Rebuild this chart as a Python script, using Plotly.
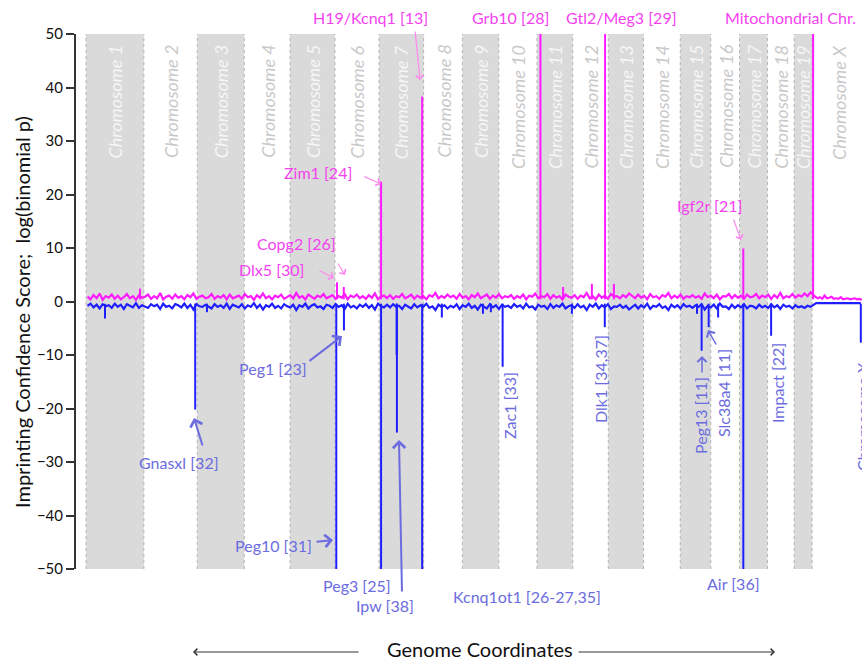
import plotly.graph_objects as go

# ---------------- data ----------------
CHROMS = [str(i) for i in range(1, 20)] + ["X"]
CHROM_MB = [197, 182, 160, 156, 153, 150, 152, 132, 124, 130, 122, 121, 120, 125, 104, 98, 95, 91, 61, 166]
MITO_GAP_MB = 7

MAG_NOISE = [
    0.9, 0.4, 1.2, 0.6, 1.5, 0.3, 1.0, 0.7, 1.3, 0.5, 1.1, 0.4, 0.8, 1.4, 0.6, 1.0, 0.3, 1.2, 0.7, 0.9,
    1.3, 0.5, 1.0, 0.6, 1.6, 0.4, 0.9, 1.1, 0.5, 1.3, 0.7, 1.0, 0.4, 1.2, 0.8, 1.5, 0.5, 0.9, 1.1, 0.6,
    0.8, 1.4, 0.5, 1.0, 0.7, 1.2, 0.4, 1.3, 0.6, 0.9, 1.1, 0.5, 1.4, 0.8, 1.0, 0.3, 1.2, 0.7, 1.5, 0.6,
    1.0, 0.4, 1.1, 0.8, 1.3, 0.5, 0.9, 1.2, 0.6, 1.6, 0.7, 1.0, 0.4, 1.3, 0.9, 0.5, 1.1, 0.8, 1.4, 0.6,
    0.9, 1.2, 0.5, 1.0, 0.7, 1.4, 0.4, 1.1, 0.8, 1.3, 0.6, 1.0, 0.5, 1.2, 0.7, 1.5, 0.4, 0.9, 1.1, 0.6,
    1.2, 0.5, 1.0, 0.8, 1.4, 0.6, 0.9, 1.3, 0.5, 1.1, 0.7, 1.0, 0.4, 1.2, 0.9, 1.6, 0.6, 1.0, 0.7, 1.3,
    0.8, 1.1, 0.5, 1.4, 0.7, 1.0, 0.4, 1.2, 0.8, 1.5, 0.6, 0.9, 1.3, 0.5, 1.1, 0.7, 1.4, 0.6, 1.0, 0.8,
    1.2, 0.5, 1.0, 0.7, 1.3, 0.4, 1.1, 0.9, 1.5, 0.6, 1.0, 0.8, 1.4, 0.5, 1.2, 0.7, 1.0, 0.4, 1.3, 0.9,
    0.7, 1.2, 0.5, 1.1, 0.8, 1.6, 0.6, 1.0, 0.4, 1.3, 0.7, 1.1, 0.5, 1.4, 0.9, 1.0, 0.6, 1.2, 0.8, 1.5,
    1.0, 0.6, 1.3, 0.7, 1.1, 0.4, 1.4, 0.8, 1.0, 0.5, 1.2, 0.9, 1.6, 0.6, 1.1, 0.7, 1.3, 0.5, 1.0, 0.8,
    1.2, 0.7, 1.0, 0.5, 1.5, 0.8, 1.1, 0.6, 1.3, 0.4, 1.0, 0.9, 1.4, 0.6, 1.2, 0.7, 1.1, 0.5, 1.3, 0.8,
    0.9, 1.4, 0.6, 1.1, 0.8, 1.3, 0.5, 1.2, 0.7, 1.6, 0.6, 1.0, 0.8, 1.4, 0.7, 1.2, 0.9, 1.5, 1.0, 1.7,
]
BLUE_NOISE = [
    -0.8, -0.4, -1.1, -0.6, -1.3, -0.5, -0.9, -0.7, -1.2, -0.4, -1.0, -0.6, -1.4, -0.5, -0.8, -1.1, -0.3, -1.2, -0.7, -0.9,
    -1.2, -0.5, -0.9, -0.6, -1.4, -0.4, -1.0, -0.8, -1.3, -0.5, -0.7, -1.1, -0.4, -1.2, -0.6, -1.5, -0.5, -0.9, -1.0, -0.6,
    -0.9, -1.3, -0.5, -1.0, -0.7, -1.2, -0.4, -1.4, -0.6, -0.8, -1.1, -0.5, -1.3, -0.7, -1.0, -0.3, -1.2, -0.6, -1.5, -0.7,
    -1.0, -0.4, -1.2, -0.8, -1.3, -0.5, -0.9, -1.1, -0.6, -1.6, -0.7, -1.0, -0.4, -1.3, -0.8, -0.5, -1.1, -0.9, -1.4, -0.6,
    -0.8, -1.2, -0.5, -1.0, -0.7, -1.4, -0.4, -1.1, -0.8, -1.3, -0.6, -1.0, -0.5, -1.2, -0.7, -1.5, -0.4, -0.9, -1.1, -0.6,
    -1.1, -0.5, -1.0, -0.8, -1.4, -0.6, -0.9, -1.3, -0.5, -1.1, -0.7, -1.0, -0.4, -1.2, -0.9, -1.6, -0.6, -1.0, -0.7, -1.3,
    -0.8, -1.1, -0.5, -1.4, -0.7, -1.0, -0.4, -1.2, -0.8, -1.5, -0.6, -0.9, -1.3, -0.5, -1.1, -0.7, -1.4, -0.6, -1.0, -0.8,
    -1.2, -0.5, -1.0, -0.7, -1.3, -0.4, -1.1, -0.9, -1.5, -0.6, -1.0, -0.8, -1.4, -0.5, -1.2, -0.7, -1.0, -0.4, -1.3, -0.9,
    -0.7, -1.2, -0.5, -1.1, -0.8, -1.6, -0.6, -1.0, -0.4, -1.3, -0.7, -1.1, -0.5, -1.4, -0.9, -1.0, -0.6, -1.2, -0.8, -1.5,
    -1.0, -0.6, -1.3, -0.7, -1.1, -0.4, -1.4, -0.8, -1.0, -0.5, -1.2, -0.9, -1.6, -0.6, -1.1, -0.7, -1.3, -0.5, -1.0, -0.8,
    -1.2, -0.7, -1.0, -0.5, -1.5, -0.8, -1.1, -0.6, -1.3, -0.4, -1.0, -0.9, -1.4, -0.6, -1.2, -0.7, -1.1, -0.5, -1.3, -0.8,
    -0.9, -1.3, -0.6, -1.1, -0.8, -1.2, -0.5, -1.1, -0.7, -1.4, -0.6, -1.0, -0.8, -1.3, -0.7, -1.1, -0.9, -1.2, -0.8, -1.0,
]
MAG_X_NOISE = [0.9, 0.6, 0.8, 0.5, 1.1, 0.6, 0.7, 0.9, 0.5, 0.6, 0.5, 0.8, 0.4, 0.5, 0.6, 0.4, 0.5, 0.6, 0.4, 0.5, 0.3]
BLUE_X_NOISE = [-0.3, -0.3, -0.35, -0.3, -0.3, -0.35, -0.3, -0.3, -0.3, -0.35, -0.3, -0.3]

MAG_SPIKE_CHR = ["1", "6", "6", "7", "7", "11", "11", "12", "12", "13", "17", "M"]
MAG_SPIKE_POS = [184, 6.8, 30, 7, 147, 11.8, 89, 65, 110, 19, 12.8, 3.5]
MAG_SPIKE_VAL = [2.4, 3.6, 2.7, 22.4, 38.3, 60, 2.7, 3.3, 60, 3.3, 9.9, 60]

BLUE_SPIKE_CHR = ["1", "2", "3", "6", "6", "7", "7", "7", "7", "8", "9", "9", "10", "11", "12",
                  "15", "15", "15", "16", "17", "18", "X"]
BLUE_SPIKE_POS = [64.7, 175, 33, 4.5, 30.5, 7, 60, 61, 147, 62, 70, 97, 13, 119, 109,
                  57, 72.8, 96.8, 25, 12.8, 12.5, 159]
BLUE_SPIKE_VAL = [-3.2, -20.2, -2.0, -60, -5.4, -60, -10, -24.5, -60, -3.0, -2.3, -2.0, -12.2, -2.3, -4.8,
                  -2.3, -9.2, -4.8, -3.0, -60, -6.4, -7.7]

Y_TICKS = [50, 40, 30, 20, 10, 0, -10, -20, -30, -40, -50]

# ---------------- layout helpers ----------------
W, H = 862, 660
L, T, B, R = 76, 34, 91, 0
PX_PER_MB = 0.2936
X0_PX = 86
XR = [(L - X0_PX) / PX_PER_MB, (W - X0_PX) / PX_PER_MB]
YR = [-50, 50]
PLOT_W = W - L - R
PLOT_H = H - T - B


def px_x(px):
    return (px - X0_PX) / PX_PER_MB


def px_y(py):
    return 50 - (py - T) * 100.0 / PLOT_H


def paper_x(px):
    return (px - L) / PLOT_W


def paper_y(py):
    return 1 - (py - T) / PLOT_H


starts = {}
acc = 0
for c, s in zip(CHROMS, CHROM_MB):
    if c == "X":
        starts["M"] = acc
        acc += MITO_GAP_MB
    starts[c] = acc
    acc += s
AUTO_END = starts["M"]

MAG = "#ff1aff"
BLUE = "#1e1eff"
MAG_TXT = "#f542f0"
BLUE_TXT = "#6c6ce0"
FONT = "Lato"

fig = go.Figure()

# noise traces
n = len(BLUE_NOISE)
bx = [(i + 0.5) * AUTO_END / n for i in range(n)]
xs = starts["X"]
bxx = [xs + (i + 0.5) * CHROM_MB[-1] / len(BLUE_X_NOISE) for i in range(len(BLUE_X_NOISE))]
fig.add_trace(go.Scatter(x=bx + bxx, y=BLUE_NOISE + BLUE_X_NOISE, mode="lines",
                         line=dict(color=BLUE, width=2.2), hoverinfo="skip"))
sx, sy = [], []
for c, p, v in zip(BLUE_SPIKE_CHR, BLUE_SPIKE_POS, BLUE_SPIKE_VAL):
    g = starts[c] + p
    sx += [g, g, None]
    sy += [-0.4, v, None]
fig.add_trace(go.Scatter(x=sx, y=sy, mode="lines", line=dict(color=BLUE, width=2), hoverinfo="skip"))

m = len(MAG_NOISE)
mx = [(i + 0.5) * AUTO_END / m for i in range(m)]
mxx = [xs + (i + 0.5) * CHROM_MB[-1] / len(MAG_X_NOISE) for i in range(len(MAG_X_NOISE))]
fig.add_trace(go.Scatter(x=mx + mxx, y=MAG_NOISE + MAG_X_NOISE, mode="lines",
                         line=dict(color=MAG, width=2.2), hoverinfo="skip"))
sx, sy = [], []
for c, p, v in zip(MAG_SPIKE_CHR, MAG_SPIKE_POS, MAG_SPIKE_VAL):
    g = starts[c] + p
    sx += [g, g, None]
    sy += [0.4, v, None]
fig.add_trace(go.Scatter(x=sx, y=sy, mode="lines", line=dict(color=MAG, width=2), hoverinfo="skip"))

# chromosome bands and labels
shapes = []
annots = []
for i, (c, s) in enumerate(zip(CHROMS, CHROM_MB)):
    a = starts[c]
    grey = (i % 2 == 0)
    if grey:
        shapes.append(dict(type="rect", xref="x", yref="y", x0=a, x1=a + s, y0=-50, y1=50,
                           fillcolor="#dadada", line=dict(width=0), layer="below"))
        for e in (a, a + s):
            shapes.append(dict(type="line", xref="x", yref="y", x0=e, x1=e, y0=-50, y1=50,
                               line=dict(color="#b4b4b4", width=1, dash="dot"), layer="below"))
    annots.append(dict(x=a + s / 2, y=px_y(43), xref="x", yref="y", text="Chromosome " + c,
                       textangle=-90, showarrow=False, xanchor="center", yanchor="top",
                       font=dict(family=FONT, size=18, color="#f6f6f6" if grey else "#c9c9c9",
                                 style="italic")))


def txt(text, px, py, color, size=16, angle=0, xanchor="center"):
    annots.append(dict(x=paper_x(px), y=paper_y(py), xref="paper", yref="paper", text=text,
                       showarrow=False, textangle=angle, xanchor=xanchor, yanchor="middle",
                       font=dict(family=FONT, size=size, color=color)))


def arrow(tx, ty, hx, hy, color, width=1.5, head=4, size=1.2):
    annots.append(dict(x=px_x(hx), y=px_y(hy), ax=px_x(tx), ay=px_y(ty), xref="x", yref="y",
                       axref="x", ayref="y", text="", showarrow=True, arrowhead=head,
                       arrowsize=size, arrowwidth=width, arrowcolor=color))


# magenta labels
txt("H19/Kcnq1 [13]", 370, 17, MAG_TXT)
txt("Grb10 [28]", 510, 17, MAG_TXT)
txt("Gtl2/Meg3 [29]", 621, 17, MAG_TXT)
txt("Mitochondrial Chr.", 723, 17, MAG_TXT, xanchor="left")
txt("Zim1 [24]", 318, 172, MAG_TXT)
txt("Copg2 [26]", 296, 243, MAG_TXT)
txt("Dlx5 [30]", 272, 269, MAG_TXT)
txt("Igf2r [21]", 709, 205, MAG_TXT)
MA = "#ff88ee"
arrow(415, 30, 420, 80, MA, 1.2)
arrow(363, 176, 381, 184, MA, 1.2)
arrow(337, 262, 345, 275, MA, 1.2)
arrow(318, 270, 334, 278, MA, 1.2)
arrow(733, 218, 741, 240, MA, 1.2)

# blue labels
txt("Gnasxl [32]", 179, 462, BLUE_TXT)
txt("Peg1 [23]", 273, 368, BLUE_TXT)
txt("Peg10 [31]", 273, 545, BLUE_TXT)
txt("Peg3 [25]", 357, 585, BLUE_TXT)
txt("Ipw [38]", 385, 605, BLUE_TXT)
txt("Kcnq1ot1 [26-27,35]", 527, 596, BLUE_TXT)
txt("Air [36]", 733, 583, BLUE_TXT)
txt("Zac1 [33]", 509, 406, BLUE_TXT, angle=-90)
txt("Dlk1 [34,37]", 600, 379, BLUE_TXT, angle=-90)
txt("Peg13 [11]", 700, 416, BLUE_TXT, angle=-90)
txt("Slc38a4 [11]", 723, 393, BLUE_TXT, angle=-90)
txt("Impact [22]", 777, 383, BLUE_TXT, angle=-90)
txt("Chromosome X", 862, 417, BLUE_TXT, angle=-90)
BA = "#6c6ce0"
arrow(203, 447, 194, 418, BA, 2)
arrow(308, 362, 342, 336, BA, 2)
arrow(315, 542, 333, 540, BA, 2)
arrow(402, 593, 399, 440, BA, 2)
arrow(441, 594, 424, 573, BA, 2)
arrow(702, 374, 702, 356, BA, 1.5)
arrow(717, 346, 708, 330, BA, 1.5)

# axis titles
txt("Imprinting Confidence Score;  log(binomial p)", 22, 312, "#111111", size=20, angle=-90)
txt("Genome Coordinates", 480, 649, "#111111", size=20)
annots.append(dict(x=paper_x(193), y=paper_y(652), ax=360 - 193, ay=0, xref="paper", yref="paper",
                   axref="pixel", ayref="pixel", text="", showarrow=True, arrowhead=4, arrowsize=1.3,
                   arrowwidth=1, arrowcolor="#333333"))
annots.append(dict(x=paper_x(775), y=paper_y(652), ax=577 - 775, ay=0, xref="paper", yref="paper",
                   axref="pixel", ayref="pixel", text="", showarrow=True, arrowhead=4, arrowsize=1.3,
                   arrowwidth=1, arrowcolor="#333333"))

fig.update_layout(
    width=W, height=H,
    margin=dict(l=L, r=R, t=T, b=B),
    paper_bgcolor="white", plot_bgcolor="white",
    showlegend=False,
    shapes=shapes, annotations=annots,
    xaxis=dict(range=XR, visible=False, fixedrange=True),
    yaxis=dict(range=YR, tickvals=Y_TICKS, ticks="outside", ticklen=8, tickwidth=2,
               tickcolor="#333333", showline=True, linewidth=2, linecolor="#333333",
               showgrid=False, zeroline=False, tickfont=dict(family=FONT, size=15, color="#111111"),
               fixedrange=True),
)

fig.write_html("out.html", config={"displayModeBar": False},
               post_script="document.body.style.margin='0';document.body.style.overflow='hidden';")
